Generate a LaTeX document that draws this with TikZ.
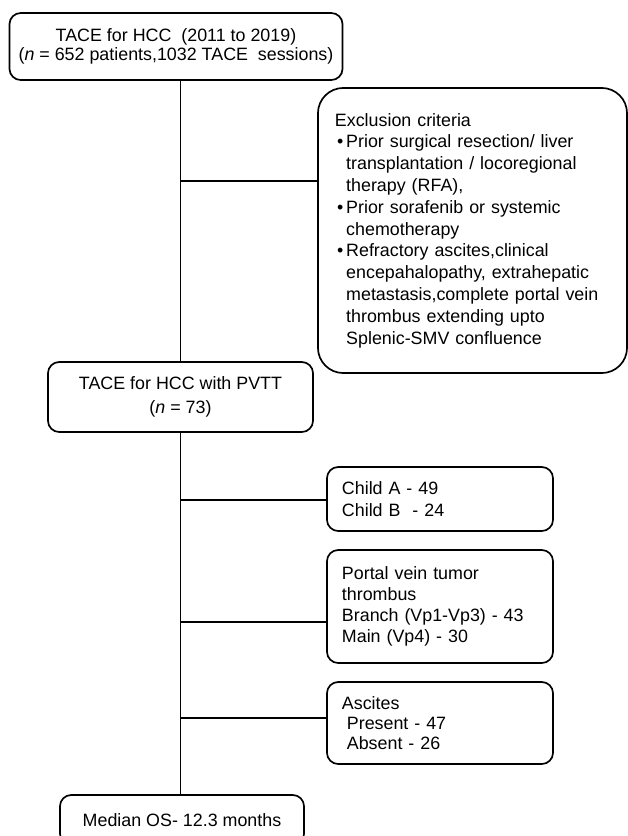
\documentclass[tikz,border=0pt]{standalone}
\usepackage{fontspec}
\setmainfont{Liberation Sans}
\newcommand{\xbul}{\hspace*{1.5pt}\makebox[6.5pt][l]{\textbullet}}
\newcommand{\xind}{\hspace*{8pt}}

\begin{document}
\begin{tikzpicture}[x=0.025cm, y=-0.025cm, line width=1.2pt,
	box/.style={draw, rounded corners=8pt, align=center, font=\fontsize{12.7}{13.5}\selectfont},
	sidebox/.style={draw, rounded corners=8pt, align=left, inner xsep=0.375cm, minimum width=5.65cm, text width=4.9cm, font=\fontsize{12.7}{15}\selectfont}]
		\useasboundingbox (0,0) rectangle (628,836);
		\node (top) [box, minimum width=8.325cm, minimum height=1.675cm] at (176,46.5) {TACE for HCC\ \ (2011 to 2019)\\(\textit{n} = 652 patients,1032 TACE\ \ sessions)};
		\node (excl) [draw, rounded corners=18pt, minimum width=7.725cm, minimum height=7.125cm, text width=6.875cm, inner xsep=0.425cm, align=left, font=\fontsize{12.7}{15.5}\selectfont] at (472.5,230.5) {Exclusion criteria\\\xbul Prior surgical resection/ liver\\\xind transplantation / locoregional\\\xind therapy (RFA),\\\xbul Prior sorafenib or systemic\\\xind chemotherapy\\\xbul Refractory ascites,clinical\\\xind encepahalopathy, extrahepatic\\\xind metastasis,complete portal vein\\\xind thrombus extending upto\\\xind Splenic-SMV confluence};
		\node (pvtt) [box, minimum width=6.625cm, minimum height=1.75cm, font=\fontsize{12.7}{17}\selectfont] at (180.5,397) {TACE for HCC with PVTT\\(\textit{n} = 73)};
		\node (child) [sidebox, minimum height=1.6cm, font=\fontsize{12.7}{16}\selectfont] at (440,499) {Child A - 49\\Child B\ \ - 24};
		\node (pvt) [sidebox, minimum height=2.825cm] at (440,606.5) {Portal vein tumor\\thrombus\\Branch (Vp1-Vp3) - 43\\Main (Vp4) - 30};
		\node (asc) [sidebox, minimum height=2.05cm, font=\fontsize{12.7}{14.5}\selectfont] at (440,723) {Ascites\\\hspace*{3.5pt}Present - 47\\\hspace*{3.5pt}Absent - 26};
		\node (med) [box, minimum width=6.1cm, minimum height=1.25cm] at (182,820) {Median OS- 12.3 months};
		%Stamm
		\draw (pvtt.north) -- (pvtt.north |- top.south);
		\draw (pvtt.south) -- (pvtt.south |- med.north);
		%Zweige
		\coordinate (jexcl) at (180.5,181);
		\coordinate (jchild) at (180.5,500);
		\coordinate (jpvt) at (180.5,622);
		\coordinate (jasc) at (180.5,718);
		\draw (jexcl) -- (jexcl -| excl.west);
		\draw (jchild) -- (jchild -| child.west);
		\draw (jpvt) -- (jpvt -| pvt.west);
		\draw (jasc) -- (jasc -| asc.west);
	\end{tikzpicture}
\end{document}
